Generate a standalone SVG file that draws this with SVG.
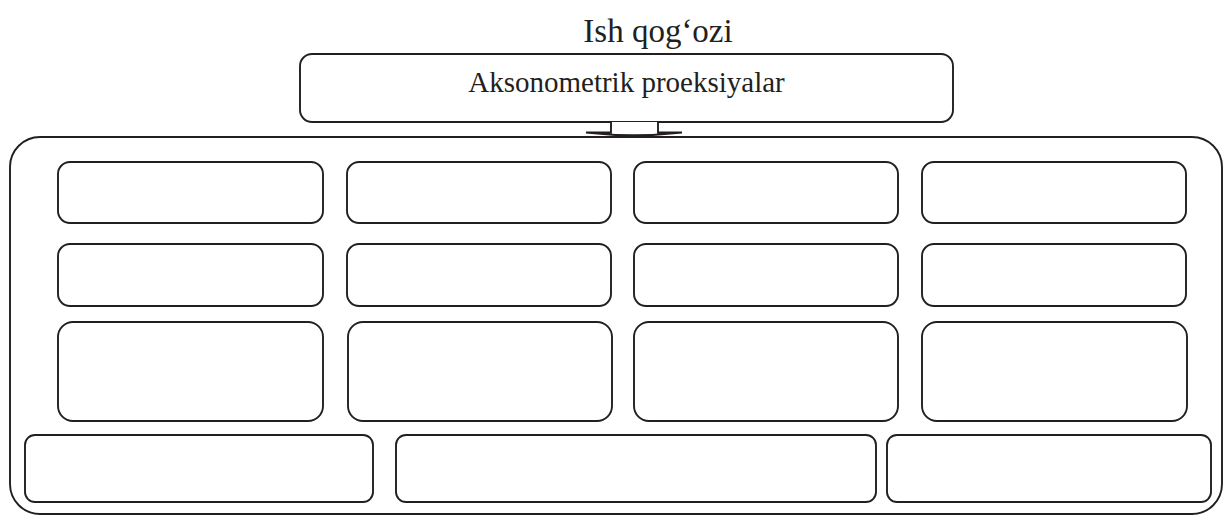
<svg xmlns="http://www.w3.org/2000/svg" width="1224" height="516" viewBox="0 0 1224 516">
<style>
.b{fill:#fff;stroke:#231f20;stroke-width:1.9}
.t{font-family:"Liberation Serif","Times New Roman",serif;fill:#231f20;text-anchor:middle}
</style>
<rect width="1224" height="516" fill="#fff"/>
<text class="t" x="658" y="42" font-size="33">Ish qog‘ozi</text>
<g id="outer"><rect class="b" x="10" y="137" width="1212" height="377" rx="30"/></g>
<g id="top"><rect class="b" x="300" y="54" width="653" height="68" rx="12"/>
<text class="t" x="626.5" y="92" font-size="29">Aksonometrik proeksiyalar</text></g>
<g id="connectors"><path class="b" d="M611,122 L611,132.5 L586,132.5 Q634,138 682,132.5 L658,132.5 L658,122"/></g>
<g id="r1c1"><rect class="b" x="58" y="162" width="265" height="61" rx="12"/></g>
<g id="r1c2"><rect class="b" x="347" y="162" width="264" height="61" rx="12"/></g>
<g id="r1c3"><rect class="b" x="634" y="162" width="264" height="61" rx="12"/></g>
<g id="r1c4"><rect class="b" x="922" y="162" width="264" height="61" rx="12"/></g>
<g id="r2c1"><rect class="b" x="58" y="244" width="265" height="62" rx="12"/></g>
<g id="r2c2"><rect class="b" x="347" y="244" width="264" height="62" rx="12"/></g>
<g id="r2c3"><rect class="b" x="634" y="244" width="264" height="62" rx="12"/></g>
<g id="r2c4"><rect class="b" x="922" y="244" width="264" height="62" rx="12"/></g>
<g id="r3c1"><rect class="b" x="58" y="322" width="265" height="99" rx="15"/></g>
<g id="r3c2"><rect class="b" x="348" y="322" width="264" height="99" rx="15"/></g>
<g id="r3c3"><rect class="b" x="634" y="322" width="264" height="99" rx="15"/></g>
<g id="r3c4"><rect class="b" x="922" y="322" width="265" height="99" rx="15"/></g>
<g id="r4c1"><rect class="b" x="25" y="435" width="348" height="67" rx="10"/></g>
<g id="r4c2"><rect class="b" x="396" y="435" width="480" height="67" rx="10"/></g>
<g id="r4c3"><rect class="b" x="887" y="435" width="324" height="67" rx="10"/></g>
</svg>
